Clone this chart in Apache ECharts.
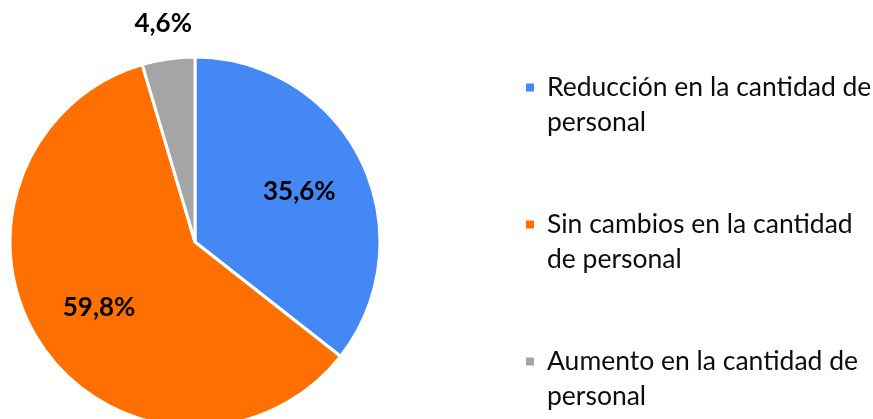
<!DOCTYPE html>
<html>
<head>
<meta charset="utf-8">
<script src="https://cdn.jsdelivr.net/npm/echarts@6/dist/echarts.min.js"></script>
<style>
  html, body { margin: 0; padding: 0; background: #fff; }
  #chart { width: 873px; height: 419px; }
</style>
</head>
<body>
<div id="chart"></div>
<script>
// categorías y porcentajes
const categories = [
  'Reducción en la cantidad de personal',
  'Sin cambios en la cantidad de personal',
  'Aumento en la cantidad de personal'
]
const legendLabels = [
  'Reducción en la cantidad de\npersonal',
  'Sin cambios en la cantidad\nde personal',
  'Aumento en la cantidad de\npersonal'
]
const values = [35.6, 59.8, 4.6]
const colors = ['#4488F5', '#FF7000', '#A5A5A5']

const FONT = 'Lato, "Noto Sans", sans-serif'
const CENTER = [195, 242]
const R = 185

const fmtPct = p => p.value.toFixed(1).replace('.', ',') + '%'

const labelStyle = {
  position: 'inside',
  fontFamily: FONT,
  fontSize: 26,
  fontWeight: 'bold',
  color: '#000',
  formatter: fmtPct
}

// serie transparente solo para colocar las etiquetas más afuera que el punto medio
function labelSeries(radius, showIdx) {
  return {
    type: 'pie',
    center: CENTER,
    radius: [0, radius],
    startAngle: 90,
    silent: true,
    itemStyle: { color: 'transparent', borderWidth: 0 },
    label: labelStyle,
    labelLine: { show: false },
    emphasis: { disabled: true },
    data: categories.map((c, i) => ({
      name: c,
      value: values[i],
      label: { show: showIdx.includes(i) }
    }))
  }
}

const chart = echarts.init(document.getElementById('chart'))

chart.setOption({
  animation: false,
  color: colors,
  legend: {
    orient: 'vertical',
    left: 524,
    top: 35,
    height: 384,
    padding: 0,
    itemWidth: 10,
    itemHeight: 10,
    itemGap: 32,
    icon: 'rect',
    data: categories,
    // línea vacía delante para que el cuadro quede a la altura de la primera línea
    formatter: name => '\n' + legendLabels[categories.indexOf(name)],
    textStyle: {
      fontFamily: FONT,
      fontSize: 26.5,
      color: '#0d0d0d',
      lineHeight: 35,
      padding: [0, 0, 0, 7]
    }
  },
  series: [
    {
      type: 'pie',
      center: CENTER,
      radius: [0, R],
      startAngle: 90,
      clockwise: true,
      itemStyle: { borderColor: '#fff', borderWidth: 3 },
      label: { show: false },
      labelLine: { show: false },
      data: categories.map((c, i) => ({ name: c, value: values[i] }))
    },
    labelSeries(226, [0, 1]),
    labelSeries(436, [2])
  ]
})
</script>
</body>
</html>
